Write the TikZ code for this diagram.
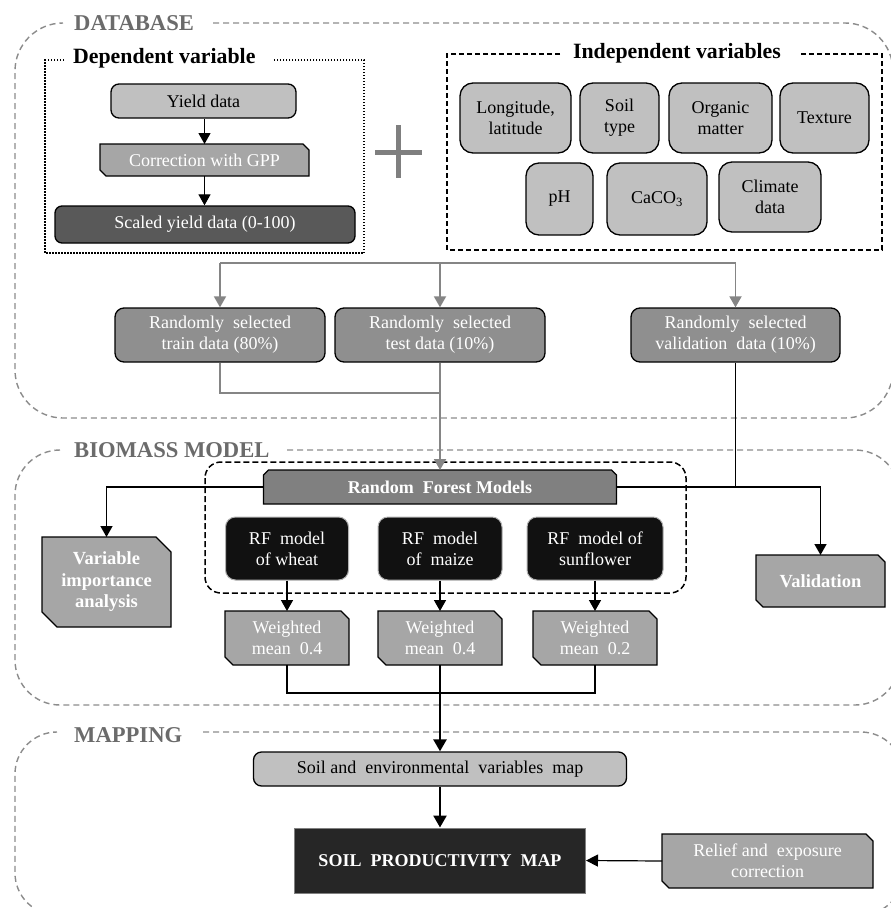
\documentclass[tikz,border=0pt]{standalone}
\usepackage{fontspec}
\setmainfont{Liberation Serif}
\usetikzlibrary{arrows.meta,calc,backgrounds}

\definecolor{lgrey}{HTML}{C0C0C0}
\definecolor{mgrey}{HTML}{A6A6A6}
\definecolor{rgrey}{HTML}{8F8F8F}
\definecolor{hgrey}{HTML}{808080}
\definecolor{dgrey}{HTML}{595959}
\definecolor{nblack}{HTML}{111111}
\definecolor{spmc}{HTML}{262626}
\definecolor{secc}{HTML}{8C8C8C}
\definecolor{labc}{HTML}{6B6B6B}
\definecolor{conc}{HTML}{858585}
\definecolor{plusc}{HTML}{7F7F7F}

\tikzset{
  base/.style={font=\fontsize{18}{21}\selectfont, align=center, inner sep=0pt, line width=1.3pt, draw=black},
  lightbox/.style={base, fill=lgrey, rounded corners=8pt},
  varbox/.style={base, fill=lgrey, rounded corners=13pt},
  randbox/.style={base, fill=rgrey, text=white, rounded corners=9pt},
  darkbox/.style={base, fill=dgrey, text=white, rounded corners=7pt},
  chamnode/.style={font=\fontsize{18}{21}\selectfont, align=center, inner sep=0pt, outer sep=0pt, text=white},
  chamfill/.style={fill=#1, draw=black, line width=1.3pt, line join=miter},
  modelbox/.style={base, fill=nblack, draw=gray!60, line width=1pt, text=white, rounded corners=10pt},
  spmbox/.style={base, fill=spmc, draw=gray, line width=1pt, text=white, font=\fontsize{18}{21}\selectfont\bfseries},
  secframe/.style={draw=secc, line width=1.4pt, dash pattern=on 6pt off 4pt},
  seclabel/.style={text=labc, font=\fontsize{22.6}{25}\selectfont\bfseries, inner sep=0pt, anchor=base west},
  grp/.style={font=\fontsize{21.8}{24}\selectfont\bfseries, inner sep=0pt},
  conn/.style={draw=black, line width=1.5pt},
  arr/.style={conn, -{Triangle[width=12pt,length=11pt]}},
  heavy/.style={draw=black, line width=2.6pt},
  heavyarr/.style={heavy, -{Triangle[width=13pt,length=12pt]}},
  gconn/.style={draw=conc, line width=1.8pt},
  garr/.style={gconn, -{Triangle[width=12pt,length=11pt]}},
}

% chamfered outline behind a named node: name, NE size, SW size (unitless), fill
\newcommand\chamfbox[4]{%
  \begin{pgfonlayer}{background}
  \filldraw[chamfill=#4] (#1.north west) -- ($(#1.north east)+(-#2,0)$) -- ($(#1.north east)+(0,#2)$)
     -- (#1.south east) -- ($(#1.south west)+(#3,0)$) -- ($(#1.south west)+(0,-#3)$) -- cycle;
  \end{pgfonlayer}}

\begin{document}
\begin{tikzpicture}[x=1pt,y=-1pt]
\clip (0,0) rectangle (891,908);
\begin{pgfonlayer}{background}
\fill[white] (0,0) rectangle (891,908);
\end{pgfonlayer}

% ---------- section frames ----------
\draw[secframe, rounded corners=48pt] (213,23) -- (893,23) -- (893,418) -- (15,418) -- (15,23) -- (63,23);
\node[seclabel] (lbdb) at (74,30) {DATABASE};
\draw[secframe, rounded corners=45pt] (287,450) -- (900,450) -- (900,705) -- (15,705) -- (15,450) -- (60,450);
\node[seclabel] (lbbm) at (74,457) {BIOMASS MODEL};
\draw[secframe, rounded corners=42pt] (203,732) -- (903,732) -- (903,915) -- (15,915) -- (15,732) -- (57,732);
\node[seclabel] (lbmap) at (74,742) {MAPPING};

% ---------- dependent variable ----------
\draw[line width=1.5pt, dash pattern=on 1.5pt off 1.5pt] (64,60) -- (45,60) -- (45,253) -- (364,253) -- (364,60) -- (272,60);
\node[grp, anchor=base west] (deptitle) at (73,63) {Dependent variable};
\node[lightbox, minimum width=185pt, minimum height=34pt] (yield) at (203.5,101) {Yield data};
\node[chamnode, minimum width=209pt, minimum height=32pt] (gpp) at (204.5,160) {Correction with GPP};
\chamfbox{gpp}{6}{6}{mgrey}
\node[darkbox, minimum width=300pt, minimum height=37pt] (scaled) at (205,224.5) {Scaled yield data (0-100)};
\draw[arr, line width=1.2pt] (yield.south -| gpp.north) -- (gpp.north);
\draw[arr, line width=1.2pt] (gpp.south) -- (gpp.south |- scaled.north);

% plus sign
\draw[line width=5pt, draw=plusc] (375,152) -- (422,152) (398.5,125) -- (398.5,178);

% ---------- independent variables ----------
\draw[line width=1.5pt, dash pattern=on 5pt off 3pt] (560,54) -- (447,54) -- (447,250) -- (882,250) -- (882,54) -- (800,54);
\node[grp] (indtitle) at (677,53) {Independent variables};
\node[varbox, minimum width=111pt, minimum height=70pt] (lon) at (515.5,118) {Longitude,\\latitude};
\node[varbox, minimum width=79pt, minimum height=70pt] (soil) at (619.5,118) {Soil\\type};
\node[varbox, minimum width=103pt, minimum height=70pt] (org) at (720.5,118) {Organic\\matter};
\node[varbox, minimum width=89pt, minimum height=70pt] (tex) at (824.5,118) {Texture};
\node[varbox, minimum width=67pt, minimum height=72pt] (ph) at (559.5,199) {pH};
\node[varbox, minimum width=100pt, minimum height=72pt] (caco) at (657,199) {CaCO\textsubscript{3}};
\node[varbox, minimum width=102pt, minimum height=70pt] (clim) at (770,197) {Climate\\data};

% ---------- random selection ----------
\node[randbox, minimum width=210pt, minimum height=54pt] (train) at (220,335) {Randomly\ \ selected\\train data (80\%)};
\node[randbox, minimum width=210pt, minimum height=54pt] (test) at (440,335) {Randomly\ \ selected\\test data (10\%)};
\node[randbox, minimum width=209pt, minimum height=54pt] (val) at (735.5,335) {Randomly\ \ selected\\validation\ \ data (10\%)};

\coordinate (gl) at (220,263);
\coordinate (gr) at (735.5,263);
\draw[gconn] (gl) -- (gr);
\draw[garr] (gl) -- (train.north);
\draw[garr] (test.north |- gl) -- (test.north);
\draw[garr] (gr) -- (val.north);

% ---------- biomass model ----------
\draw[line width=1.5pt, dash pattern=on 6pt off 3pt, rounded corners=16pt] (205,462) rectangle (686,593);
\node[chamnode, font=\fontsize{18}{21}\selectfont\bfseries, minimum width=353pt, minimum height=34pt] (rf) at (440,487) {Random\ \ Forest Models};
\begin{pgfonlayer}{background}
\filldraw[chamfill=hgrey] ($(rf.north west)+(0,5)$) -- ($(rf.north west)+(5,0)$) -- ($(rf.north east)+(-5,0)$) -- ($(rf.north east)+(0,5)$) -- (rf.south east) -- (rf.south west) -- cycle;
\end{pgfonlayer}
\coordinate (tj) at (440,393);
\draw[gconn] (train.south) |- (tj);
\draw[garr] (test.south) -- (test.south |- rf.north);

\node[modelbox, minimum width=123pt, minimum height=63pt] (wheat) at (287,548.5) {RF\ \ model\\of wheat};
\node[modelbox, minimum width=124pt, minimum height=63pt] (maize) at (440,548.5) {RF\ \ model\\of\ \ maize};
\node[modelbox, minimum width=136pt, minimum height=63pt] (sun) at (595,548.5) {RF\ \ model of\\sunflower};

\node[chamnode, minimum width=124pt, minimum height=54pt] (w1) at (287,638) {Weighted\\mean\ \ 0.4};
\node[chamnode, minimum width=124pt, minimum height=54pt] (w2) at (440,638) {Weighted\\mean\ \ 0.4};
\node[chamnode, minimum width=124pt, minimum height=54pt] (w3) at (595,638) {Weighted\\mean\ \ 0.2};
\chamfbox{w1}{8}{8}{mgrey}
\chamfbox{w2}{8}{8}{mgrey}
\chamfbox{w3}{8}{8}{mgrey}
\draw[arr] (wheat.south) -- (w1.north);
\draw[arr] (maize.south) -- (w2.north);
\draw[arr] (sun.south) -- (w3.north);

\node[chamnode, font=\fontsize{18.5}{21.5}\selectfont\bfseries, minimum width=129pt, minimum height=90pt] (via) at (106.5,582) {Variable\\importance\\analysis};
\chamfbox{via}{15}{15}{mgrey}
\node[chamnode, font=\fontsize{18.5}{21}\selectfont\bfseries, minimum width=129pt, minimum height=52pt] (valid) at (820.5,581) {Validation};
\chamfbox{valid}{7}{7}{mgrey}
\draw[arr] (rf.west) -| (via.north);
\draw[arr] (rf.east) -| (valid.north);
\draw[conn] (val.south) -- (val.south |- rf.east);

\coordinate (wj) at (440,693);
\draw[conn] (w1.south) |- (wj) -| (w3.south);

% ---------- mapping ----------
\node[lightbox, minimum width=373pt, minimum height=34pt] (smap) at (440,769) {Soil and\ \ environmental\ \ variables\ \ map};
\node[spmbox, minimum width=291pt, minimum height=65pt] (spm) at (440,860.5) {SOIL\ \ PRODUCTIVITY\ \ MAP};
\node[chamnode, minimum width=211pt, minimum height=54pt] (relief) at (767.5,861) {Relief and\ \ exposure\\correction};
\chamfbox{relief}{7}{7}{mgrey}
\draw[heavyarr] (w2.south) -- (smap.north);
\draw[heavyarr] (smap.south) -- (spm.north);
\draw[conn, line width=1.2pt, -{Triangle[width=12pt,length=12pt]}] (relief.west) -- (spm.east);
\end{tikzpicture}
\end{document}
